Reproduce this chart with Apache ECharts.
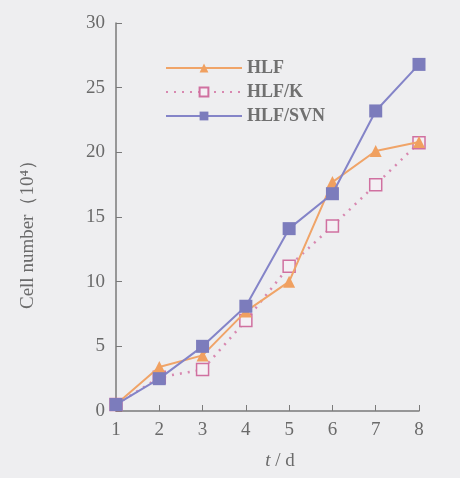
<!DOCTYPE html>
<html><head><meta charset="utf-8">
<script src="https://cdn.jsdelivr.net/npm/echarts@6/dist/echarts.min.js"></script>
<style>html,body{margin:0;padding:0;background:#eeeef0}#c{width:460px;height:478px}</style>
</head><body><div id="c"></div>
<script>
var days = [1, 2, 3, 4, 5, 6, 7, 8];
var hlf = [0.5, 3.4, 4.3, 7.7, 10.0, 17.7, 20.1, 20.8];
var hlfK = [0.5, 2.6, 3.2, 7.0, 11.2, 14.3, 17.5, 20.75];
var hlfSVN = [0.5, 2.5, 5.0, 8.1, 14.1, 16.8, 23.2, 26.8];
var yTicks = [0, 5, 10, 15, 20, 25, 30];

function pairs(v){ return days.map(function(d,i){ return [d, v[i]]; }); }
var axisCol = '#7a7a7a';
var txtCol = '#6a6a6a';
var font = 'Liberation Serif';
var chart = echarts.init(document.getElementById('c'));
chart.setOption({
  backgroundColor: '#eeeef0',
  animation: false,
  grid: {left: 116, right: 41, top: 23, bottom: 67},
  legend: {
    orient: 'vertical', left: 160, top: 54, itemWidth: 76, itemHeight: 11, itemGap: 6,
    textStyle: {fontFamily: font, fontSize: 18, fontWeight: 'bold', color: '#707070'},
    data: ['HLF', 'HLF/K', 'HLF/SVN']
  },
  graphic: [
    {type: 'text', x: 28, y: 230, rotation: Math.PI / 2,
     style: {text: 'Cell number（10⁴）', font: '19px "Liberation Serif"', fill: txtCol, align: 'center', verticalAlign: 'middle'}},
    {type: 'text', x: 280, y: 461,
     style: {text: '{i|t} / d', font: '19px "Liberation Serif"', fill: txtCol, align: 'center', verticalAlign: 'middle',
       rich: {i: {fontStyle: 'italic', fontFamily: font, fontSize: 19, fill: txtCol}}}}
  ],
  xAxis: {
    type: 'value', min: 1, max: 8, interval: 1,
    axisLine: {lineStyle: {color: axisCol, width: 1.5}},
    axisTick: {inside: true, length: 6, lineStyle: {color: axisCol}},
    axisLabel: {fontFamily: font, fontSize: 19, color: txtCol, margin: 10},
    splitLine: {show: false}
  },
  yAxis: {
    type: 'value', min: 0, max: 30, interval: 5,
    axisLine: {show: true, lineStyle: {color: axisCol, width: 1.5}},
    axisTick: {show: true, inside: true, length: 6, lineStyle: {color: axisCol}},
    axisLabel: {fontFamily: font, fontSize: 19, color: txtCol, margin: 11,
      formatter: function(v){ return yTicks.indexOf(v) >= 0 ? String(v) : ''; }},
    splitLine: {show: false}
  },
  series: [
    {name: 'HLF', type: 'line', data: pairs(hlf), symbol: 'triangle', symbolSize: 12,
     lineStyle: {color: '#f0a468', width: 2}, itemStyle: {color: '#f0a060'}, z: 3},
    {name: 'HLF/K', type: 'line', data: pairs(hlfK), symbol: 'rect', symbolSize: 12,
     lineStyle: {color: '#d888b0', width: 2.5, type: [2, 6]},
     itemStyle: {color: '#f4f0f4', borderColor: '#d070a0', borderWidth: 1.5}, z: 2},
    {name: 'HLF/SVN', type: 'line', data: pairs(hlfSVN), symbol: 'rect', symbolSize: 13,
     lineStyle: {color: '#8484c8', width: 2}, itemStyle: {color: '#7c7cbc'}, z: 4}
  ]
});
</script></body></html>
